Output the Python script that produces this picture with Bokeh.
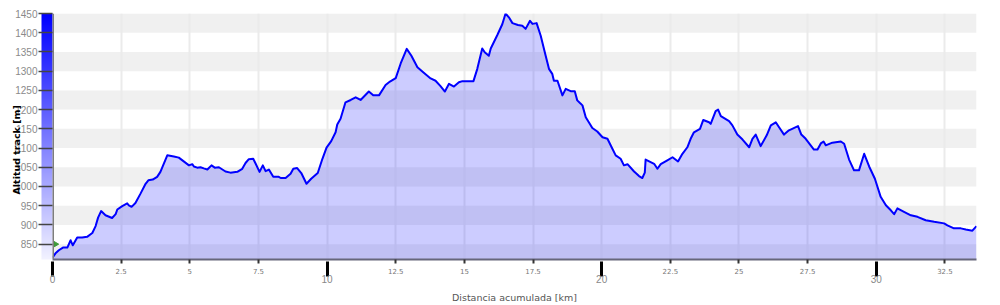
import numpy as np
from bokeh.plotting import figure
from bokeh.models import (LinearAxis, FixedTicker, ColorBar, LinearColorMapper,
                          Span, BoxAnnotation, Grid, Title)
from bokeh.embed import file_html
from bokeh.resources import INLINE

# ---------------- data ----------------
dist_km = [0.00, 0.11, 0.23, 0.38, 0.54, 0.66, 0.74, 0.90, 1.08, 1.26,
           1.45, 1.57, 1.66, 1.77, 1.93, 2.17, 2.30, 2.36, 2.54, 2.72,
           2.78, 2.88, 3.02, 3.21, 3.39, 3.49, 3.65, 3.81, 3.93, 4.18,
           4.42, 4.60, 4.97, 5.09, 5.15, 5.27, 5.39, 5.51, 5.64, 5.79,
           5.91, 6.06, 6.30, 6.48, 6.73, 6.91, 7.03, 7.15, 7.31, 7.40,
           7.54, 7.66, 7.76, 7.88, 8.04, 8.24, 8.31, 8.49, 8.67, 8.77,
           8.91, 9.06, 9.25, 9.42, 9.66, 9.83, 9.98, 10.15, 10.31, 10.37,
           10.49, 10.67, 10.86, 11.04, 11.22, 11.52, 11.68, 11.89, 12.13, 12.29,
           12.50, 12.68, 12.90, 13.07, 13.29, 13.50, 13.77, 13.95, 14.13, 14.29,
           14.44, 14.62, 14.80, 14.93, 15.33, 15.47, 15.65, 15.74, 15.89, 15.96,
           16.20, 16.38, 16.50, 16.62, 16.75, 16.95, 17.11, 17.23, 17.39, 17.48,
           17.63, 17.78, 17.96, 18.08, 18.20, 18.26, 18.39, 18.57, 18.69, 18.87,
           19.02, 19.11, 19.21, 19.30, 19.42, 19.66, 19.84, 20.03, 20.21, 20.39,
           20.51, 20.69, 20.81, 20.94, 21.18, 21.36, 21.48, 21.57, 21.60, 21.91,
           22.03, 22.15, 22.39, 22.58, 22.78, 22.94, 23.12, 23.24, 23.36, 23.58,
           23.70, 23.91, 23.97, 24.15, 24.24, 24.34, 24.64, 24.76, 24.94, 25.13,
           25.37, 25.49, 25.61, 25.79, 26.01, 26.16, 26.34, 26.46, 26.64, 26.82,
           27.15, 27.27, 27.43, 27.73, 27.86, 27.98, 28.08, 28.16, 28.40, 28.71,
           28.83, 29.01, 29.19, 29.37, 29.56, 29.74, 29.95, 30.16, 30.35, 30.53,
           30.65, 30.77, 31.01, 31.26, 31.50, 31.80, 32.11, 32.47, 32.59, 32.83,
           33.08, 33.26, 33.50, 33.65]

alt_m = [815, 826, 834, 841, 841, 860, 847, 867, 867, 869,
         879, 897, 919, 936, 925, 918, 928, 940, 949, 956,
         951, 947, 957, 982, 1007, 1016, 1018, 1025, 1038, 1081,
         1078, 1075, 1055, 1058, 1052, 1049, 1050, 1047, 1044, 1055,
         1049, 1050, 1039, 1036, 1038, 1046, 1061, 1071, 1072, 1059,
         1038, 1055, 1040, 1044, 1025, 1025, 1022, 1022, 1033, 1046,
         1048, 1035, 1007, 1020, 1035, 1072, 1101, 1118, 1141, 1161,
         1176, 1219, 1225, 1232, 1225, 1247, 1237, 1237, 1264, 1273,
         1282, 1320, 1358, 1340, 1310, 1297, 1281, 1275, 1261, 1247,
         1267, 1260, 1271, 1274, 1274, 1306, 1359, 1349, 1340, 1359,
         1394, 1422, 1450, 1440, 1425, 1420, 1418, 1410, 1431, 1423,
         1425, 1392, 1340, 1306, 1293, 1275, 1275, 1237, 1254, 1248,
         1248, 1224, 1217, 1211, 1180, 1152, 1143, 1128, 1124, 1098,
         1081, 1072, 1055, 1058, 1039, 1027, 1022, 1036, 1070, 1059,
         1046, 1058, 1068, 1076, 1065, 1085, 1102, 1124, 1141, 1150,
         1173, 1167, 1163, 1196, 1200, 1183, 1170, 1159, 1135, 1122,
         1102, 1124, 1135, 1105, 1133, 1159, 1167, 1154, 1135, 1146,
         1157, 1135, 1124, 1096, 1096, 1112, 1117, 1107, 1114, 1117,
         1111, 1070, 1042, 1042, 1085, 1052, 1020, 973, 951, 938,
         928, 943, 934, 925, 921, 912, 908, 904, 899, 891,
         891, 888, 885, 897]

y_ticks = [850, 900, 950, 1000, 1050, 1100, 1150, 1200, 1250, 1300, 1350, 1400, 1450]
x_major_ticks = [0, 10, 20, 30]
x_minor_ticks = [2.5, 5, 7.5, 12.5, 15, 17.5, 22.5, 25, 27.5, 32.5]
x_minor_labels = ["2.5", "5", "7.5", "12.5", "15", "17.5", "22.5", "25", "27.5", "32.5"]
marker_km = [0.1]
marker_alt = [850]

Y_MIN, Y_MAX = 810, 1450
X_MAX = dist_km[-1]

# ---------------- figure ----------------
p = figure(width=1000, height=305, x_range=(0, X_MAX), y_range=(Y_MIN, Y_MAX),
           output_backend="svg", toolbar_location=None,
           x_axis_location=None, y_axis_location=None,
           min_border_left=52, min_border_right=24,
           min_border_top=13, min_border_bottom=46)
p.outline_line_color = None
p.background_fill_color = "white"
p.border_fill_color = "white"
p.center = []

# alternating horizontal bands
band_lows = [y_ticks[0] - 50] + y_ticks[1::2]
for lo in band_lows:
    p.add_layout(BoxAnnotation(bottom=lo, top=lo + 50, fill_color="#f0f0f0",
                               fill_alpha=1.0, line_color=None, level="underlay"))

xgrid = Grid(dimension=0, ticker=FixedTicker(ticks=sorted(x_major_ticks + x_minor_ticks)),
             grid_line_color="#ebebeb", grid_line_width=2)
p.add_layout(xgrid)

# area + line
p.varea(x=dist_km, y1=Y_MIN, y2=alt_m, fill_color="#0000ff", fill_alpha=0.2)
p.line(dist_km, alt_m, line_color="#0000ff", line_width=2, line_join="round")

p.scatter(marker_km, marker_alt, marker="triangle", angle=-np.pi / 2, size=6,
          fill_color="#3f9a3a", line_color="#3f9a3a")

# left frame line
p.add_layout(Span(location=0, dimension="height", line_color="#7d7d7d", line_width=3))

# colour bar (altitude gradient)
palette = ["#%02x%02xff" % (v, v) for v in np.linspace(242, 0, 256).astype(int)]
mapper = LinearColorMapper(palette=palette, low=Y_MIN, high=Y_MAX)
cb = ColorBar(color_mapper=mapper, width=11, padding=0, margin=0,
              ticker=FixedTicker(ticks=[]), major_tick_line_color=None,
              minor_tick_line_color=None, bar_line_color=None,
              border_line_color=None, background_fill_color=None,
              major_label_text_font_size="1px", label_standoff=0)
p.add_layout(cb, "left")

yaxis = LinearAxis(ticker=FixedTicker(ticks=y_ticks),
                   axis_line_color=None,
                   major_tick_in=11, major_tick_out=3,
                   major_tick_line_color="#444444", major_tick_line_width=1.5,
                   minor_tick_line_color=None,
                   major_label_text_font="Liberation Sans",
                   major_label_text_font_size="10px",
                   major_label_text_color="#8a8a8a",
                   major_label_standoff=1)
yaxis.level = "overlay"
p.add_layout(yaxis, "left")

# y axis title, placed low as in the reference
ytitle = Title(text="Altitud track [m]", align="left", offset=65,
               vertical_align="bottom", standoff=-18,
               text_font="DejaVu Sans", text_font_style="bold",
               text_font_size="9.5px", text_color="black")
ytitle.level = "overlay"
p.add_layout(ytitle, "left")

# bottom axes
xa = LinearAxis(ticker=FixedTicker(ticks=x_minor_ticks),
                major_label_overrides=dict(zip(x_minor_ticks, x_minor_labels)),
                axis_line_color="#66667a", axis_line_width=2,
                major_tick_in=0, major_tick_out=4,
                major_tick_line_color="#333333", major_tick_line_width=2,
                minor_tick_line_color=None,
                major_label_text_font="DejaVu Sans",
                major_label_text_font_size="7px",
                major_label_text_color="#777777",
                major_label_standoff=4)
p.add_layout(xa, "below")

xb = LinearAxis(ticker=FixedTicker(ticks=x_major_ticks),
                axis_line_color=None,
                major_tick_in=15, major_tick_out=0,
                major_tick_line_color="black", major_tick_line_width=3,
                minor_tick_line_color=None,
                major_label_text_font="Liberation Sans",
                major_label_text_font_size="10px",
                major_label_text_color="#888888",
                major_label_standoff=-2,
                axis_label="Distancia acumulada [km]",
                axis_label_text_font="DejaVu Sans",
                axis_label_text_font_size="9.5px",
                axis_label_text_font_style="normal",
                axis_label_text_color="#555555",
                axis_label_standoff=6)
p.add_layout(xb, "below")

open("out.html", "w").write(file_html(p, INLINE))
